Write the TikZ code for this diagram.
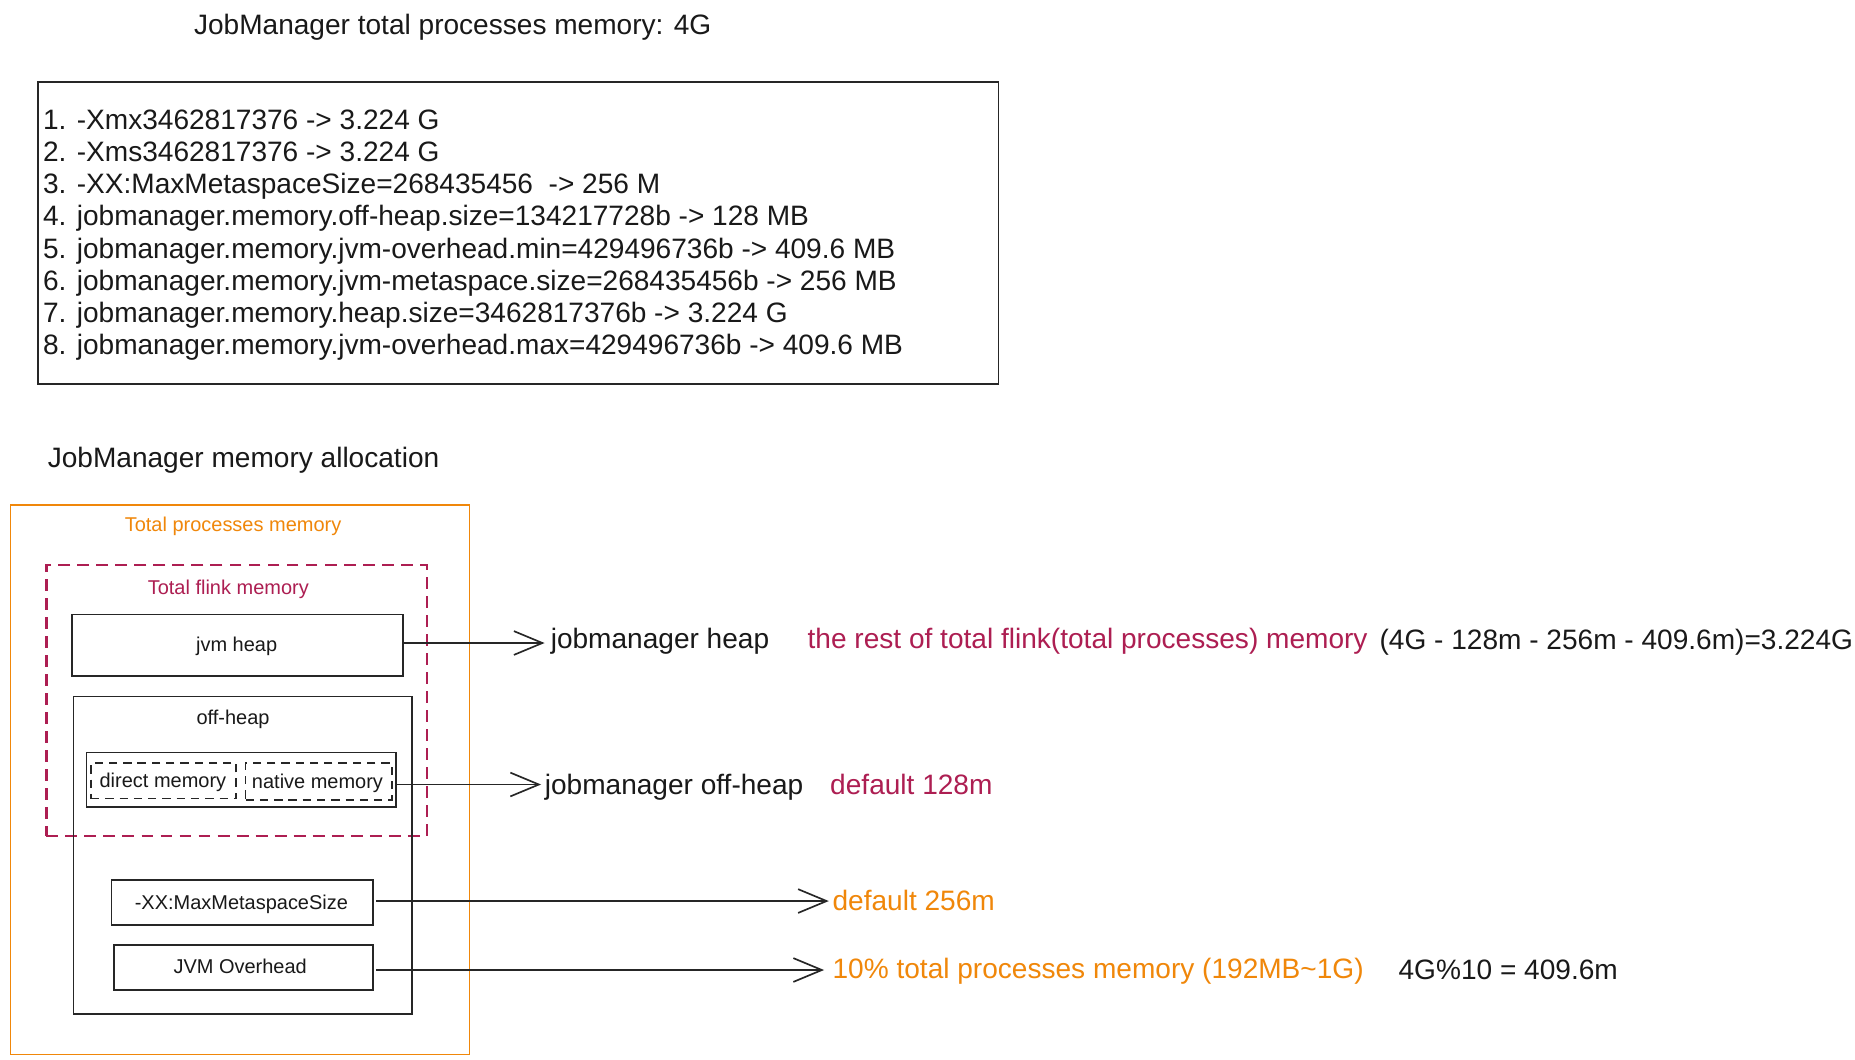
\documentclass[tikz,border=0pt]{standalone}
\usepackage{fontspec}
\setmainfont{Liberation Sans}
\usetikzlibrary{arrows.meta}
\definecolor{crim}{RGB}{173,30,82}
\definecolor{orng}{RGB}{240,135,10}
\newcommand{\bigf}{\fontsize{23.6}{27}\selectfont}
\newcommand{\smf}{\fontsize{16.8}{20}\selectfont}
\tikzset{
  box/.style={draw=black!85, line width=1.5pt, anchor=north west, inner sep=0pt},
  txt/.style={inner sep=0pt, anchor=base west, font=\bigf, text=black!90},
  stxt/.style={inner sep=0pt, anchor=base, font=\smf, text=black!90},
  conn/.style={draw=black!85, line width=1.4pt, -{Straight Barb[length=24pt,width=20pt,line width=1.4pt]}},
}
\begin{document}
\begin{tikzpicture}[x=1pt,y=-1pt]
\useasboundingbox[fill=white] (0,0) rectangle (1560,890.6);
% top section
\node[txt] (title) at (163,29) {JobManager total processes memory: 4G};
\node[box, minimum width=808pt, minimum height=254pt] (listbox) at (31,68) {};
\node[txt] (l1) at (36,109) {1. -Xmx3462817376 -> 3.224 G};
\node[txt] (l2) at (36,136) {2. -Xms3462817376 -> 3.224 G};
\node[txt] (l3) at (36,163) {3. -XX:MaxMetaspaceSize=268435456 \ -> 256 M};
\node[txt] (l4) at (36,190) {4. jobmanager.memory.off-heap.size=134217728b -> 128 MB};
\node[txt] (l5) at (36,217) {5. jobmanager.memory.jvm-overhead.min=429496736b -> 409.6 MB};
\node[txt] (l6) at (36,244) {6. jobmanager.memory.jvm-metaspace.size=268435456b -> 256 MB};
\node[txt] (l7) at (36,271) {7. jobmanager.memory.heap.size=3462817376b -> 3.224 G};
\node[txt] (l8) at (36,298) {8. jobmanager.memory.jvm-overhead.max=429496736b -> 409.6 MB};
% allocation section
\node[txt] (alloc) at (40,393) {JobManager memory allocation};
\node[box, draw=orng, line width=1.3pt, minimum width=386pt, minimum height=462pt] (tpm) at (8,424) {};
\node[stxt, text=orng] (tpmlbl) at (196,447) {Total processes memory};
\node[box, draw=crim, line width=2pt, dash pattern=on 10pt off 6pt, minimum width=320pt, minimum height=228pt] (tfm) at (38,474) {};
\node[stxt, text=crim] (tfmlbl) at (192,500) {Total flink memory};
\node[box, minimum width=278pt, minimum height=52pt] (heap) at (60,516) {};
\node[stxt] (heaplbl) at (199,548) {jvm heap};
\node[box, minimum width=285pt, minimum height=267pt] (offheap) at (61,585) {};
\node[stxt] (offlbl) at (196,609) {off-heap};
\node[box, minimum width=260pt, minimum height=46pt] (inner) at (72,632) {};
\node[box, line width=1.2pt, dash pattern=on 7pt off 5pt, minimum width=122pt, minimum height=30pt] (direct) at (76,641) {};
\node[stxt] (directlbl) at (137,662) {direct memory};
\node[box, line width=1.2pt, dash pattern=on 7pt off 5pt, minimum width=123pt, minimum height=31pt] (native) at (206,641) {};
\node[stxt] (nativelbl) at (267,663) {native memory};
\node[box, minimum width=220pt, minimum height=38pt] (meta) at (93,739) {};
\node[stxt] (metalbl) at (203,765) {-XX:MaxMetaspaceSize};
\node[box, minimum width=218pt, minimum height=38pt] (jvmo) at (95,794) {};
\node[stxt] (jvmolbl) at (202,819) {JVM Overhead};
% right side texts
\node[txt] (jmheap) at (463,545) {jobmanager heap};
\node[txt, text=crim] (rest) at (679,545) {the rest of total flink(total processes) memory};
\node[txt] (calc1) at (1160,546) {(4G - 128m - 256m - 409.6m)=3.224G};
\node[txt] (jmoff) at (458,668) {jobmanager off-heap};
\node[txt, text=crim] (d128) at (698,668) {default 128m};
\node[txt, text=orng] (d256) at (700,766) {default 256m};
\node[txt, text=orng] (pct) at (700,823) {10\% total processes memory (192MB\textasciitilde 1G)};
\node[txt] (calc2) at (1176,824) {4G\%10 = 409.6m};
% connectors
\draw[conn, shorten >=5pt] ([yshift=2pt]heap.east) -- ([yshift=2pt]heap.east -| jmheap.west);
\draw[conn, shorten >=3pt] ([yshift=-4pt]inner.east) -- ([yshift=-4pt]inner.east -| jmoff.west);
\draw[conn, shorten >=3pt] ([xshift=2pt,yshift=1pt]meta.east) -- ([yshift=1pt]meta.east -| d256.west);
\draw[conn, shorten >=7pt] ([xshift=2pt,yshift=-2pt]jvmo.east) -- ([yshift=-2pt]jvmo.east -| pct.west);
\end{tikzpicture}
\end{document}
